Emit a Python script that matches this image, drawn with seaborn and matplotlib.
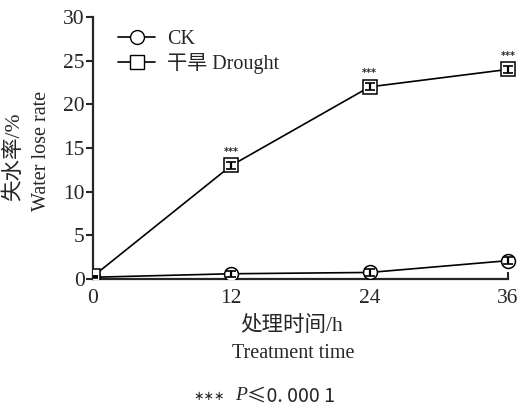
import numpy as np
import pandas as pd
import matplotlib
matplotlib.use("Agg")
import matplotlib.pyplot as plt
from matplotlib.lines import Line2D
import seaborn as sns

# Sampling times (h)
hours = [0, 12, 24, 36]
# Water loss rate (%) and standard errors
ck_rate = [0.2, 0.6, 0.75, 2.1]
ck_err = [0.1, 0.35, 0.35, 0.4]
drought_rate = [0.3, 13.0, 22.0, 24.0]
drought_err = [0.1, 0.35, 0.4, 0.4]
series_names = ["CK", "干旱 Drought"]
sig_marks = ["", "***", "***", "***"]

sns.set_style("ticks")
plt.rcParams["font.family"] = ["Liberation Serif", "Noto Sans CJK SC", "DejaVu Sans"]
plt.rcParams["axes.unicode_minus"] = False

W, H = 518, 408


def fx(px):
    return px / W


def fy(py):
    return 1 - py / H


df = pd.DataFrame({
    "time": hours * 2,
    "rate": ck_rate + drought_rate,
    "err": ck_err + drought_err,
    "group": [series_names[0]] * 4 + [series_names[1]] * 4,
})

fig = plt.figure(figsize=(W / 100, H / 100), dpi=100)
# axes box: x from 93 px to the right edge, y from 279 px (0) to 17 px (30)
ax = fig.add_axes([fx(93), fy(279), fx(518) - fx(93), fy(17) - fy(279)])

markers = {series_names[0]: "o", series_names[1]: "s"}
sizes = {series_names[0]: 10, series_names[1]: 9.5}
for name in series_names:
    sub = df[df["group"] == name]
    sns.lineplot(data=sub, x="time", y="rate", ax=ax, color="black",
                 linewidth=1.2, marker=markers[name], markersize=sizes[name],
                 markerfacecolor="white", markeredgecolor="black",
                 markeredgewidth=1.1, legend=False, zorder=3)
    ax.errorbar(sub["time"], sub["rate"], yerr=sub["err"], fmt="none",
                ecolor="black", elinewidth=1.6, capsize=3.5, capthick=1.2,
                zorder=4)

for t, v, s in zip(hours, drought_rate, sig_marks):
    if s:
        ax.text(t, v + 1.0, s, ha="center", va="bottom", fontsize=7,
                fontweight="bold", family="DejaVu Sans")

x_max = 36 * (518 - 93) / (508 - 93)
ax.set_xlim(0, x_max)
ax.set_ylim(0, 30)
ax.set_xticks(hours)
ax.set_yticks(np.arange(0, 31, 5))
ax.tick_params(axis="y", direction="out", length=5, width=1.5, labelsize=15.5, pad=1)
ax.tick_params(axis="x", direction="in", length=5, width=1.5, labelsize=15.5, pad=7.5)
for side in ["left", "bottom"]:
    ax.spines[side].set_linewidth(1.6)
sns.despine(ax=ax)
ax.spines["bottom"].set_bounds(0, 36)
ax.set_xlabel("")
ax.set_ylabel("")

# axis titles (Chinese line + English line)
fig.text(fx(292), fy(326), "处理时间/h", fontsize=15.5, ha="center", va="center")
fig.text(fx(293), fy(354), "Treatment time", fontsize=14.5, ha="center", va="center")
fig.text(fx(14), fy(157), "失水率/%", fontsize=15.5, rotation=90, ha="center", va="center")
fig.text(fx(42), fy(151), "Water lose rate", fontsize=14.5, rotation=90,
         ha="center", va="center")

handles = [
    Line2D([], [], color="black", linewidth=1.2, marker="o", markersize=10,
           markerfacecolor="white", markeredgecolor="black"),
    Line2D([], [], color="black", linewidth=1.2, marker="s", markersize=9.5,
           markerfacecolor="white", markeredgecolor="black"),
]
fig.legend(handles, series_names, loc="upper left",
           bbox_to_anchor=(fx(118), fy(30)), bbox_transform=fig.transFigure,
           frameon=False, fontsize=14.5, handlelength=1.85, labelspacing=0.2,
           handletextpad=0.6, borderaxespad=0, borderpad=0)

fig.text(fx(193), fy(396), "∗∗∗", fontsize=9, family="DejaVu Sans",
         ha="left", va="center")
fig.text(fx(235), fy(395), "P", fontsize=14, style="italic", ha="left", va="center")
fig.text(fx(247), fy(396), "≤0. 000 1", fontsize=14,
         family=["Noto Sans CJK SC", "DejaVu Sans"], ha="left", va="center")

fig.savefig("out.png", dpi=100)
